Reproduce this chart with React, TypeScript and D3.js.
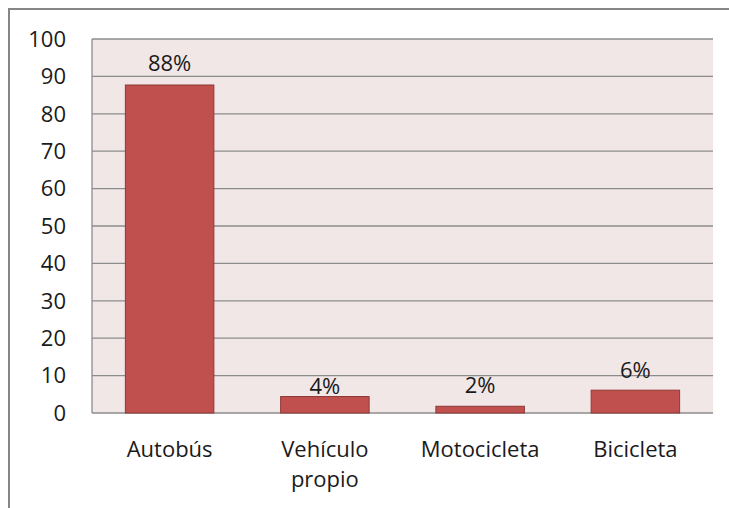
import React from "react";
import * as d3 from "d3";

const categories: string[][] = [["Autobús"], ["Vehículo", "propio"], ["Motocicleta"], ["Bicicleta"]];
const values: number[] = [87.7, 4.4, 1.8, 6.1];
const labels: string[] = ["88%", "4%", "2%", "6%"];
const labelGaps: number[] = [14, 3, 13, 12];
const yTicks: number[] = [0, 10, 20, 30, 40, 50, 60, 70, 80, 90, 100];

const W = 729, H = 508;
const plot = { left: 92, right: 713, top: 39, bottom: 413 };
const font = "'Open Sans', 'Noto Sans', sans-serif";

export default function App() {
  const x = d3.scaleBand<number>().domain(d3.range(values.length)).range([plot.left, plot.right]).paddingInner(0.43).paddingOuter(0.215);
  const y = d3.scaleLinear().domain([0, 100]).range([plot.bottom, plot.top]);
  return (
    <svg width={W} height={H} style={{ position: "absolute", left: 0, top: 0 }}>
      <rect x={0} y={0} width={W} height={H} fill="#fff" />
      <rect x={9} y={9} width={W + 10} height={H + 10} fill="none" stroke="#868686" strokeWidth={2} />
      <rect x={plot.left} y={plot.top} width={plot.right - plot.left} height={plot.bottom - plot.top} fill="#f2e7e7" />
      {yTicks.map((t) => (
        <g key={t}>
          <line x1={plot.left} x2={plot.right} y1={y(t)} y2={y(t)} stroke="#8c8c8c" strokeWidth={1.3} />
          <text x={66} y={y(t)} dy="0.35em" textAnchor="end" fontFamily={font} fontSize={22} fill="#1a1a1a">{t}</text>
        </g>
      ))}
      <line x1={plot.left} x2={plot.left} y1={plot.top} y2={plot.bottom} stroke="#8c8c8c" strokeWidth={1.3} />
      {values.map((v, i) => (
        <g key={i}>
          <rect x={x(i)} y={y(v)} width={x.bandwidth()} height={y(0) - y(v)} fill="#c0504d" stroke="#8c3836" strokeWidth={1} />
          <text x={(x(i) as number) + x.bandwidth() / 2} y={y(v) - labelGaps[i]} textAnchor="middle" fontFamily={font} fontSize={22} fill="#1a1a1a">{labels[i]}</text>
          {categories[i].map((line, j) => (
            <text key={j} x={(x(i) as number) + x.bandwidth() / 2} y={457 + j * 30} textAnchor="middle" fontFamily={font} fontSize={22} fill="#1a1a1a">{line}</text>
          ))}
        </g>
      ))}
    </svg>
  );
}
